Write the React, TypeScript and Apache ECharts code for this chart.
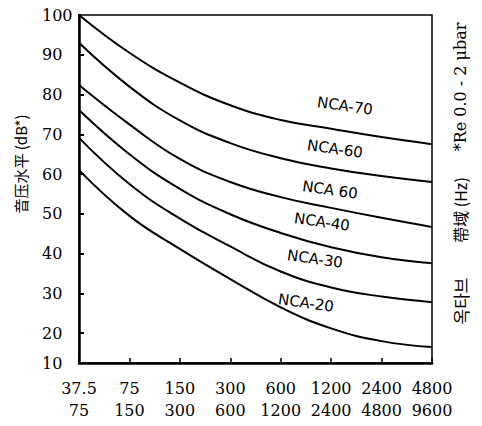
import React, { useEffect, useRef } from "react";
import * as echarts from "echarts";

// Octave bands (Hz): lower and upper edges
const lowerEdges = ["37.5", "75", "150", "300", "600", "1200", "2400", "4800"];
const upperEdges = ["75", "150", "300", "600", "1200", "2400", "4800", "9600"];

// Sound pressure levels (dB)
const nca70 = [100, 90.5, 83.0, 77.3, 73.6, 71.4, 69.3, 67.5];
const nca60 = [93.0, 82.0, 73.5, 67.8, 64.0, 61.4, 59.5, 58.0];
const nca50 = [82.4, 72.5, 63.8, 58.0, 54.2, 51.5, 49.0, 46.7];
const nca40 = [76.1, 65.0, 56.3, 49.9, 45.2, 41.6, 39.1, 37.6];
const nca30 = [69.1, 57.5, 48.8, 41.8, 35.5, 31.5, 29.2, 27.8];
const nca20 = [61.0, 49.5, 41.2, 33.6, 26.5, 21.2, 18.0, 16.5];

const curveNames = ["NCA-70", "NCA-60", "NCA 60", "NCA-40", "NCA-30", "NCA-20"];

// y tick values (bottom of the printed scale is labelled "10")
const yTickValues = [12.5, 20, 30, 40, 50, 60, 70, 80, 90, 100];
const yBottomLabel = "10";

export default function App() {
  const ref = useRef<HTMLDivElement>(null);

  useEffect(() => {
    document.body.style.margin = "0";
    if (!ref.current) return;
    const chart = echarts.init(ref.current, null, { renderer: "svg" });
    const categories = lowerEdges.map((l, i) => l + "\n" + upperEdges[i]);
    const seriesData = [nca70, nca60, nca50, nca40, nca30, nca20];
    const labelPos = [
      [345, 106],
      [335, 149],
      [330, 190],
      [322, 222],
      [315, 259],
      [306, 303],
    ];
    const serif = "'DejaVu Serif', 'Liberation Serif', serif";
    chart.setOption({
      animation: false,
      backgroundColor: "#ffffff",
      grid: {
        left: 79,
        right: 50,
        top: 15,
        bottom: 63,
        show: true,
        borderColor: "#000",
        borderWidth: 1.5,
        containLabel: false,
      },
      xAxis: {
        type: "category",
        boundaryGap: false,
        data: categories,
        axisLine: { lineStyle: { color: "#000", width: 2.5 } },
        axisTick: { inside: true, length: 5, lineStyle: { color: "#000", width: 1.5 } },
        axisLabel: {
          color: "#000",
          fontFamily: serif,
          fontSize: 16,
          lineHeight: 22,
          margin: 14,
          interval: 0,
        },
        splitLine: { show: false },
      },
      yAxis: {
        type: "value",
        min: 12.5,
        max: 100,
        axisLine: { show: true, lineStyle: { color: "#000", width: 2.5 } },
        axisTick: {
          show: true,
          inside: true,
          length: 5,
          customValues: yTickValues.slice(1, -1),
          lineStyle: { color: "#000", width: 2 },
        },
        axisLabel: {
          color: "#000",
          fontFamily: serif,
          fontSize: 16,
          align: "left",
          margin: 37,
          customValues: yTickValues,
          formatter: (v: number) => (v === yTickValues[0] ? yBottomLabel : String(v)),
        },
        splitLine: { show: false },
      },
      series: seriesData.map((d, i) => ({
        name: curveNames[i],
        type: "line",
        data: d,
        smooth: 0.45,
        symbol: "none",
        lineStyle: { color: "#000", width: 2 },
      })),
      graphic: [
        ...curveNames.map((n, i) => ({
          type: "text",
          x: labelPos[i][0],
          y: labelPos[i][1],
          rotation: -0.14,
          style: {
            text: n,
            fill: "#000",
            font: "15px 'DejaVu Sans', 'Liberation Sans', sans-serif",
            align: "center",
            verticalAlign: "middle",
          },
        })),
        {
          type: "text",
          x: 20,
          y: 164,
          rotation: Math.PI / 2,
          style: {
            text: "音压水平 (dB*)",
            fill: "#000",
            font: "15px 'Noto Sans CJK SC', 'DejaVu Serif', serif",
            align: "center",
            verticalAlign: "middle",
          },
        },
        {
          type: "text",
          x: 460,
          y: 87,
          rotation: Math.PI / 2,
          style: {
            text: "*Re 0.0 - 2 μbar",
            fill: "#000",
            font: "16px 'DejaVu Serif', serif",
            align: "center",
            verticalAlign: "middle",
          },
        },
        {
          type: "text",
          x: 460,
          y: 210,
          rotation: Math.PI / 2,
          style: {
            text: "帶域 (Hz)",
            fill: "#000",
            font: "16px 'Noto Sans CJK TC', 'DejaVu Serif', serif",
            align: "center",
            verticalAlign: "middle",
          },
        },
        {
          type: "text",
          x: 460,
          y: 301,
          rotation: Math.PI / 2,
          style: {
            text: "옥타브",
            fill: "#000",
            font: "17px 'Noto Sans CJK KR', serif",
            align: "center",
            verticalAlign: "middle",
          },
        },
      ],
    });
    return () => chart.dispose();
  }, []);

  return <div ref={ref} style={{ width: 482, height: 426 }} />;
}
